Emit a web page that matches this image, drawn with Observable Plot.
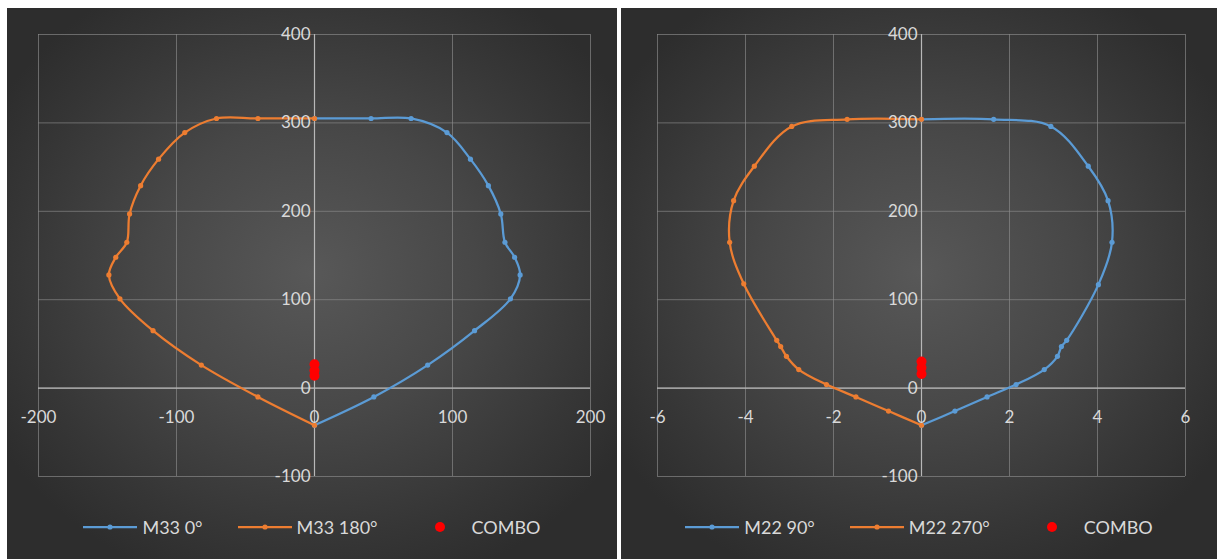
<!DOCTYPE html>
<html>
<head>
<meta charset="utf-8">
<script src="https://cdn.jsdelivr.net/npm/d3@7"></script>
<script src="https://cdn.jsdelivr.net/npm/@observablehq/plot@0.6"></script>
<style>
  html, body { margin: 0; padding: 0; background: #ffffff; }
  body { width: 1217px; height: 559px; position: relative; overflow: hidden; font-family: Lato, "Open Sans", sans-serif; }
  .panel { position: absolute; top: 8px; height: 551px; overflow: hidden;
    background: radial-gradient(ellipse 60% 60% at 50% 48%, #585858 0%, #474747 45%, #363636 80%, #2d2d2d 100%); }
  .panel > svg { position: absolute; left: 0; top: 0; }
  .legend { position: absolute; left: 0; right: 0; top: 508px; height: 22px; display: flex; justify-content: center; align-items: center; gap: 35px; color: #d9d9d9; font-size: 18px; }
  .item { display: flex; align-items: center; gap: 5px; }
  .item svg { display: block; }
</style>
</head>
<body>
<div id="p1" class="panel" style="left:7px;width:610px;"></div>
<div id="p2" class="panel" style="left:621px;width:596px;"></div>
<script>
// ---- Data ----
const m33_0_x   = [0, 41, 70, 96, 113, 126, 135, 138, 145, 149, 142, 116, 82, 43, 0];
const m33_0_y   = [305, 305, 305, 289, 259, 229, 197, 165, 148, 128, 101, 65, 26, -10, -42];
const m33_180_x = [0, -41, -71, -94, -113, -126, -134, -136, -144, -149, -141, -117, -82, -41, 0];
const m33_180_y = [305, 305, 305, 289, 259, 229, 197, 165, 148, 128, 101, 65, 26, -10, -42];
const combo1_x  = [0, 0, 0];
const combo1_y  = [27, 20, 14];

const m22_90_x  = [0, 1.64, 2.94, 3.79, 4.24, 4.33, 4.02, 3.30, 3.18, 3.09, 2.79, 2.15, 1.49, 0.76, 0];
const m22_90_y  = [304, 304, 296, 251, 212, 165, 117, 54, 47, 36, 21, 4, -10, -26, -42];
const m22_270_x = [0, -1.69, -2.95, -3.80, -4.27, -4.36, -4.04, -3.29, -3.20, -3.07, -2.79, -2.16, -1.49, -0.75, 0];
const m22_270_y = [304, 304, 296, 251, 212, 165, 118, 54, 47, 36, 21, 4, -10, -26, -42];
const combo2_x  = [0, 0, 0];
const combo2_y  = [30, 23, 16];

const yTicks  = [-100, 0, 100, 200, 300, 400];
const xTicks1 = [-200, -100, 0, 100, 200];
const xTicks2 = [-6, -4, -2, 0, 2, 4, 6];

const names1 = ["M33 0°", "M33 180°", "COMBO"];
const names2 = ["M22 90°", "M22 270°", "COMBO"];

const BLUE = "#5b9bd5", ORANGE = "#ed7d31", RED = "#ff0000";

const zip = (xs, ys) => xs.map((x, i) => ({x, y: ys[i]}));

function makePlot({width, marginLeft, marginRight, xDomain, xTicks, blue, orange, combo}) {
  return Plot.plot({
    width, height: 500,
    marginLeft, marginRight, marginTop: 26, marginBottom: 32,
    x: {domain: xDomain, axis: null},
    y: {domain: [-100, 400], axis: null},
    style: {background: "transparent", color: "#d9d9d9", fontFamily: "Lato, 'Open Sans', sans-serif", fontSize: "17px"},
    marks: [
      Plot.ruleX(xTicks, {stroke: "#8c8c8c", strokeWidth: 1, strokeOpacity: 0.65}),
      Plot.ruleY(yTicks, {stroke: "#8c8c8c", strokeWidth: 1, strokeOpacity: 0.65}),
      Plot.ruleX([0], {stroke: "#b8b8b8", strokeWidth: 1.2}),
      Plot.ruleY([0], {stroke: "#b8b8b8", strokeWidth: 1.2}),
      Plot.line(blue, {x: "x", y: "y", curve: "catmull-rom", stroke: BLUE, strokeWidth: 2.25}),
      Plot.dot(blue, {x: "x", y: "y", r: 2.6, fill: BLUE}),
      Plot.line(orange, {x: "x", y: "y", curve: "catmull-rom", stroke: ORANGE, strokeWidth: 2.25}),
      Plot.dot(orange, {x: "x", y: "y", r: 2.6, fill: ORANGE}),
      Plot.dot(combo, {x: "x", y: "y", r: 5, fill: RED}),
      Plot.text(yTicks, {x: 0, y: d => d, text: d => String(d), textAnchor: "end", dx: -4, fill: "#d9d9d9"}),
      Plot.text(xTicks, {x: d => d, y: 0, text: d => String(d), dy: 29, fill: "#d9d9d9"})
    ]
  });
}

function swatch(color, kind) {
  const ns = "http://www.w3.org/2000/svg";
  const s = document.createElementNS(ns, "svg");
  s.setAttribute("width", 54); s.setAttribute("height", 12);
  if (kind === "line") {
    const l = document.createElementNS(ns, "line");
    l.setAttribute("x1", 0); l.setAttribute("x2", 54); l.setAttribute("y1", 6); l.setAttribute("y2", 6);
    l.setAttribute("stroke", color); l.setAttribute("stroke-width", 2.25);
    s.appendChild(l);
    const c = document.createElementNS(ns, "circle");
    c.setAttribute("cx", 27); c.setAttribute("cy", 6); c.setAttribute("r", 2.6); c.setAttribute("fill", color);
    s.appendChild(c);
  } else {
    const c = document.createElementNS(ns, "circle");
    c.setAttribute("cx", 27); c.setAttribute("cy", 6); c.setAttribute("r", 5); c.setAttribute("fill", color);
    s.appendChild(c);
  }
  return s;
}

function legend(names) {
  const div = document.createElement("div");
  div.className = "legend";
  const kinds = [[BLUE, "line"], [ORANGE, "line"], [RED, "dot"]];
  names.forEach((n, i) => {
    const it = document.createElement("div");
    it.className = "item";
    it.appendChild(swatch(kinds[i][0], kinds[i][1]));
    const t = document.createElement("span");
    t.textContent = n;
    it.appendChild(t);
    div.appendChild(it);
  });
  return div;
}

const p1 = document.getElementById("p1");
p1.appendChild(makePlot({width: 610, marginLeft: 31, marginRight: 27, xDomain: [-200, 200], xTicks: xTicks1,
  blue: zip(m33_0_x, m33_0_y), orange: zip(m33_180_x, m33_180_y), combo: zip(combo1_x, combo1_y)}));
p1.appendChild(legend(names1));

const p2 = document.getElementById("p2");
p2.appendChild(makePlot({width: 596, marginLeft: 36, marginRight: 32, xDomain: [-6, 6], xTicks: xTicks2,
  blue: zip(m22_90_x, m22_90_y), orange: zip(m22_270_x, m22_270_y), combo: zip(combo2_x, combo2_y)}));
p2.appendChild(legend(names2));
</script>
</body>
</html>
